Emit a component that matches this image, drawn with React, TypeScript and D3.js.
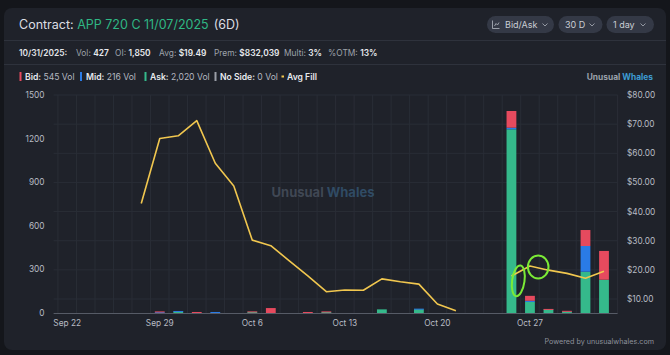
import React from "react";
import * as d3 from "d3";

const dates = [
  "Sep 22","Sep 23","Sep 24","Sep 25","Sep 26",
  "Sep 29","Sep 30","Oct 1","Oct 2","Oct 3",
  "Oct 6","Oct 7","Oct 8","Oct 9","Oct 10",
  "Oct 13","Oct 14","Oct 15","Oct 16","Oct 17",
  "Oct 20","Oct 21","Oct 22","Oct 23","Oct 24",
  "Oct 27","Oct 28","Oct 29","Oct 30","Oct 31",
];
const askVol = [0,0,0,0,0, 0,10,0,0,0, 8,0,0,0,7, 0,0,25,0,26, 0,0,0,0,1264, 76,26,10,284,229];
const midVol = [0,0,0,0,0, 6,4,0,7,0, 0,0,0,0,0, 0,0,0,0,4, 0,0,0,0,11, 8,0,0,177,0];
const bidVol = [0,0,0,0,0, 5,0,7,0,0, 3,34,0,7,4, 0,0,0,0,0, 0,0,0,0,115, 34,2,5,110,198];
const avgFill: (number | null)[] = [
  null,null,null,null,42.8,
  65.1,66.0,71.2,56.6,48.8,
  30.2,28.3,23.1,17.9,12.5,
  13.1,13.0,16.9,15.9,15.1,
  8.3,6.0,null,null,17.9,
  21.3,19.9,18.8,17.1,19.5,
];
const xTickLabels = ["Sep 22","Sep 29","Oct 6","Oct 13","Oct 20","Oct 27"];
const volTicks = [0,300,600,900,1200,1500];
const priceTicks = [10,20,30,40,50,60,70,80];
const VOL_MAX = 1500;
const PRICE_MIN = 5.2;
const PRICE_MAX = 80;

const W = 670, H = 355;
const FONT = "Inter, 'Noto Sans', sans-serif";
const C_ASK = "#35b98b", C_MID = "#2a7be6", C_BID = "#e64a5e", C_LINE = "#f1c74f";

export default function App() {
  const x = d3.scaleBand<string>().domain(dates).range([53.6, 617.6]).padding(0.47);
  const step = x.step();
  const yV = d3.scaleLinear().domain([0, VOL_MAX]).range([313, 95]);
  const yP = d3.scaleLinear().domain([PRICE_MIN, PRICE_MAX]).range([313, 95]);

  const stackData = dates.map((d, i) => ({ date: d, ask: askVol[i], mid: midVol[i], bid: bidVol[i] }));
  const series = d3.stack<any>().keys(["ask", "mid", "bid"])(stackData);
  const colors: Record<string, string> = { ask: C_ASK, mid: C_MID, bid: C_BID };

  const line = d3.line<number | null>()
    .defined((d) => d !== null)
    .x((_, i) => (x(dates[i]) as number) + x.bandwidth() / 2)
    .y((d) => yP(d as number));

  const cx = (d: string) => (x(d) as number) + x.bandwidth() / 2;
  const bands = dates.map((d) => (x(d) as number) + x.bandwidth() / 2 - step / 2);

  const pill = (x0: number, x1: number) => (
    <rect x={x0} y={16} width={x1 - x0} height={17} rx={8.5} fill="#343946" />
  );
  const chevron = (cxp: number) => (
    <path d={`M${cxp - 2.5},${23.5} L${cxp},${26} L${cxp + 2.5},${23.5}`} fill="none" stroke="#9ea3ad" strokeWidth={0.9} />
  );

  return (
    <svg width={W} height={H} style={{ position: "absolute", left: 0, top: 0, fontFamily: FONT }}>
      <rect x={0} y={0} width={W} height={H} fill="#14161b" />
      <rect x={4} y={8} width={662} height={342} rx={8} fill="#1f222a" />
      <line x1={4} x2={666} y1={40.5} y2={40.5} stroke="#2e323c" />
      <line x1={4} x2={666} y1={64.5} y2={64.5} stroke="#2e323c" />

      {/* Title */}
      <text x={19} y={28.5} fontSize={12.5} fill="#dcdee3">
        Contract: <tspan fill="#2fb784">APP 720 C 11/07/2025</tspan><tspan dx={5}>(6D)</tspan>
      </text>

      {/* Buttons */}
      {pill(487, 554)}
      <path d="M492.5,20.5 V28.5 H499.5 M494.5,26 L496,23.5 L497.5,25 L499,22.5" fill="none" stroke="#b5bac3" strokeWidth={0.8} />
      <text x={505} y={27.8} fontSize={9} fill="#c9cdd4">Bid/Ask</text>
      {chevron(545)}
      {pill(558.5, 602.5)}
      <text x={565} y={27.8} fontSize={9} fill="#c9cdd4">30 D</text>
      {chevron(592)}
      {pill(606.5, 654)}
      <text x={613} y={27.8} fontSize={9} fill="#c9cdd4">1 day</text>
      {chevron(643)}

      {/* Info line */}
      <text y={56} fontSize={8.4} fill="#9ea2ab">
        <tspan x={19} fill="#e3e5e9" fontWeight={600}>10/31/2025:</tspan>
        <tspan x={76}>Vol: </tspan><tspan fill="#e8eaee" fontWeight={600}>427</tspan>
        <tspan x={115}>OI: </tspan><tspan fill="#e8eaee" fontWeight={600}>1,850</tspan>
        <tspan x={159}>Avg: </tspan><tspan fill="#e8eaee" fontWeight={600}>$19.49</tspan>
        <tspan x={214}>Prem: </tspan><tspan fill="#e8eaee" fontWeight={600}>$832,039</tspan>
        <tspan x={284}>Multi: </tspan><tspan fill="#e8eaee" fontWeight={600}>3%</tspan>
        <tspan x={328}>%OTM: </tspan><tspan fill="#e8eaee" fontWeight={600}>13%</tspan>
      </text>

      {/* Legend */}
      <rect x={19.5} y={72} width={2} height={9} fill={C_BID} />
      <text x={25} y={80} fontSize={8.6} fill="#b4b8c0"><tspan fill="#e8eaee" fontWeight={600}>Bid:</tspan> 545 Vol</text>
      <rect x={80} y={72} width={2} height={9} fill={C_MID} />
      <text x={86} y={80} fontSize={8.6} fill="#b4b8c0"><tspan fill="#e8eaee" fontWeight={600}>Mid:</tspan> 216 Vol</text>
      <rect x={144.5} y={72} width={2} height={9} fill={C_ASK} />
      <text x={150} y={80} fontSize={8.6} fill="#b4b8c0"><tspan fill="#e8eaee" fontWeight={600}>Ask:</tspan> 2,020 Vol</text>
      <rect x={214.5} y={72} width={2} height={9} fill="#9a9ea7" />
      <text x={220} y={80} fontSize={8.6} fill="#b4b8c0"><tspan fill="#e8eaee" fontWeight={600}>No Side:</tspan> 0 Vol</text>
      <rect x={281.5} y={75.5} width={2.5} height={2} fill={C_LINE} />
      <text x={287} y={80} fontSize={8.6} fill="#e8eaee" fontWeight={600}>Avg Fill</text>
      <text x={653} y={79.5} fontSize={8.4} textAnchor="end" fontWeight={700} fill="#9aa0aa">
        Unusual <tspan fill="#3d9bd3">Whales</tspan>
      </text>

      {/* Grid */}
      {bands.map((bx, i) => (
        <line key={"v" + i} x1={bx} x2={bx} y1={95} y2={313} stroke="#292d36" strokeWidth={1} />
      ))}
      <line x1={617.6} x2={617.6} y1={95} y2={313} stroke="#292d36" />
      {priceTicks.map((t) => (
        <line key={"h" + t} x1={53.6} x2={617.6} y1={yP(t)} y2={yP(t)} stroke="#292d36" />
      ))}

      {/* Watermark */}
      <text x={323} y={197} fontSize={13} fontWeight={700} textAnchor="middle" fill="#444c59" opacity={0.9}>
        Unusual <tspan fill="#32506b">Whales</tspan>
      </text>

      {/* Bars */}
      {series.map((s) => (
        <g key={s.key} fill={colors[s.key]}>
          {s.map((d, i) =>
            d[1] - d[0] > 0 ? (
              <rect key={i} x={x(dates[i])} y={yV(d[1])} width={x.bandwidth()} height={Math.max(1, yV(d[0]) - yV(d[1]))} />
            ) : null
          )}
        </g>
      ))}

      {/* Line */}
      <path d={line(avgFill) || ""} fill="none" stroke={C_LINE} strokeWidth={1.6} strokeLinejoin="round" />

      {/* Baseline */}
      <line x1={53.6} x2={617.6} y1={313.5} y2={313.5} stroke="#565b66" strokeWidth={1} />

      {/* Left axis */}
      {volTicks.map((t) => (
        <text key={"l" + t} x={44.5} y={yV(t) + 3} fontSize={8.3} textAnchor="end" fill="#b8bcc4">{t}</text>
      ))}
      {/* Right axis */}
      {priceTicks.map((t) => (
        <text key={"r" + t} x={627} y={yP(t) + 3} fontSize={8.3} fill="#b8bcc4">{d3.format("$.2f")(t)}</text>
      ))}
      {/* X axis */}
      {xTickLabels.map((t) => (
        <text key={"x" + t} x={cx(t)} y={326} fontSize={8.3} textAnchor="middle" fill="#b8bcc4">{t}</text>
      ))}

      {/* Hand-drawn annotations */}
      <ellipse cx={518.3} cy={280.8} rx={6.2} ry={15.5} transform="rotate(8 518.3 280.8)" fill="none" stroke="#7bea36" strokeWidth={2} />
      <ellipse cx={538.2} cy={267} rx={10.3} ry={11.5} fill="none" stroke="#7bea36" strokeWidth={2} />

      <text x={654} y={344} fontSize={7.2} textAnchor="end" fill="#8d919b">Powered by unusualwhales.com</text>
    </svg>
  );
}
